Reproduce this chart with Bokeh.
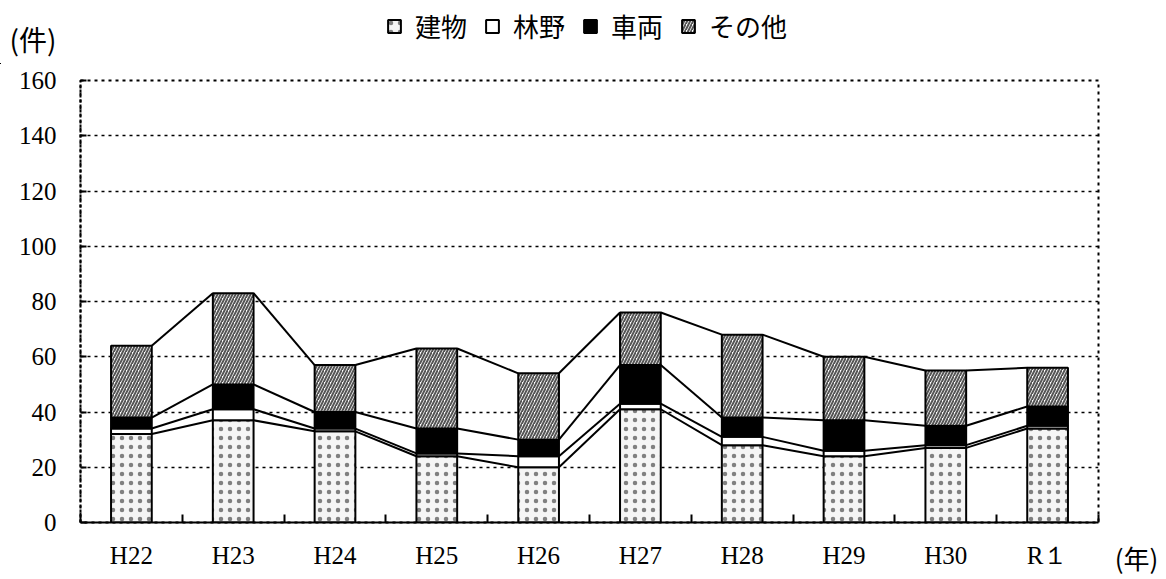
from bokeh.plotting import figure
from bokeh.layouts import column, row
from bokeh.models import ColumnDataSource, FixedTicker, Legend, LegendItem, Label, Range1d
from bokeh.embed import file_html
from bokeh.resources import INLINE

years = ["H22", "H23", "H24", "H25", "H26", "H27", "H28", "H29", "H30", "R１"]
building = [32, 37, 33, 24, 20, 41, 28, 24, 27, 34]
forest = [2, 4, 1, 1, 4, 2, 3, 2, 1, 1]
vehicle = [4, 9, 6, 9, 6, 14, 7, 11, 7, 7]
other = [26, 33, 17, 29, 24, 19, 30, 23, 20, 14]
series_names = ["建物", "林野", "車両", "その他"]
y_ticks = [0, 20, 40, 60, 80, 100, 120, 140, 160]
y_unit = "(件)"
x_unit = "(年)"

n = len(years)
xs = [i + 0.5 for i in range(n)]
c1 = building
c2 = [a + b for a, b in zip(c1, forest)]
c3 = [a + b for a, b in zip(c2, vehicle)]
c4 = [a + b for a, b in zip(c3, other)]
zeros = [0] * n

src = ColumnDataSource(dict(x=xs, b0=zeros, c1=c1, c2=c2, c3=c3, c4=c4))
levels = [("b0", "c1"), ("c1", "c2"), ("c2", "c3"), ("c3", "c4")]

SERIF = "Liberation Serif"
CJK = "Noto Sans CJK JP"

styles = [
    dict(fill_color="#f5f5f5", hatch_pattern="dot", hatch_scale=9, hatch_color="#808080", hatch_weight=1),
    dict(fill_color="white"),
    dict(fill_color="black"),
    dict(fill_color="white", hatch_pattern="right_diagonal_line", hatch_scale=6, hatch_color="#555", hatch_weight=2),
]

# ---------------- main chart ----------------
FW, FH = 1018, 442
BT, BB = 16, 49
p = figure(frame_width=FW, frame_height=FH,
           x_range=Range1d(0, n), y_range=Range1d(0, 160),
           output_backend="svg", toolbar_location=None,
           min_border_left=80, min_border_right=2,
           min_border_top=BT, min_border_bottom=BB)
p.background_fill_color = "white"
p.border_fill_color = "white"
p.outline_line_color = "black"
p.outline_line_dash = "3 4"
p.outline_line_width = 2

p.xgrid.grid_line_color = None
p.ygrid.grid_line_color = "black"
p.ygrid.grid_line_dash = "3 4"
p.ygrid.grid_line_width = 1.5
p.ygrid.ticker = FixedTicker(ticks=y_ticks)

bw = 0.4
for lev in [c1, c2, c3, c4]:
    p.segment(x0=[x + bw / 2 for x in xs[:-1]], y0=lev[:-1],
              x1=[x - bw / 2 for x in xs[1:]], y1=lev[1:],
              line_color="black", line_width=2)

for (lo, hi), st in zip(levels, styles):
    p.vbar(x="x", bottom=lo, top=hi, width=bw, source=src, line_color="black", line_width=2, **st)

def style_xaxis(ax):
    ax.major_tick_line_color = None
    ax.axis_line_color = "black"
    ax.axis_line_width = 2
    ax.major_label_text_font_size = "25px"
    ax.major_label_text_color = "black"
    ax.major_label_standoff = 13

p.xaxis.ticker = FixedTicker(ticks=xs, minor_ticks=list(range(n + 1)))
p.xaxis.major_label_overrides = {x: y for x, y in zip(xs, years)}
style_xaxis(p.xaxis[0])
p.xaxis.minor_tick_in = 8
p.xaxis.minor_tick_out = 0
p.xaxis.minor_tick_line_color = "black"
p.xaxis.minor_tick_line_width = 2
p.xaxis.major_label_text_font = SERIF

p.yaxis.ticker = FixedTicker(ticks=y_ticks)
p.yaxis.major_tick_in = 6
p.yaxis.major_tick_out = 0
p.yaxis.major_tick_line_width = 2
p.yaxis.minor_tick_line_color = None
p.yaxis.axis_line_color = "black"
p.yaxis.axis_line_width = 2
p.yaxis.axis_line_dash = "3 2"
p.yaxis.major_label_text_font = SERIF
p.yaxis.major_label_text_font_size = "25px"
p.yaxis.major_label_text_color = "black"
p.yaxis.major_label_standoff = 24

TOP_H = 80 - BT

# ---------------- right strip: x unit as a tick label ----------------
side = figure(frame_width=60, frame_height=FH, x_range=Range1d(0, 1), y_range=Range1d(0, 160),
              y_axis_type=None, output_backend="svg", toolbar_location=None,
              min_border_left=0, min_border_right=0, min_border_top=BT, min_border_bottom=BB)
side.grid.grid_line_color = None
side.outline_line_color = None
side.background_fill_color = "white"
side.border_fill_color = "white"
side.xaxis.ticker = FixedTicker(ticks=[0.6], minor_ticks=[])
side.xaxis.major_label_overrides = {0.6: x_unit}
style_xaxis(side.xaxis[0])
side.xaxis.major_label_standoff = 10
side.xaxis.axis_line_color = None
side.xaxis.minor_tick_line_color = None
side.xaxis.major_label_text_font = CJK
side.xaxis.major_label_text_font_size = "26px"

TOTAL_W = 80 + FW + 2 + 60

# ---------------- top strip: y unit and legend ----------------
top = figure(width=TOTAL_W, height=TOP_H, x_range=Range1d(0, TOTAL_W), y_range=Range1d(0, TOP_H),
             x_axis_type=None, y_axis_type=None, output_backend="svg", toolbar_location=None,
             min_border_left=0, min_border_right=0, min_border_top=0, min_border_bottom=0)
top.grid.grid_line_color = None
top.outline_line_color = None
top.background_fill_color = "white"
top.border_fill_color = "white"
# legend glyph renderers: same data, mapped onto ranges that put them outside this strip
top.extra_x_ranges = {"off": Range1d(20, 40)}
top.extra_y_ranges = {"offy": Range1d(1000, 1100)}
items = []
for name, (lo, hi), st in zip(series_names, levels, styles):
    r = top.vbar(x="x", bottom=lo, top=hi, width=bw, source=src,
                 x_range_name="off", y_range_name="offy",
                 line_color="black", line_width=2, **st)
    items.append(LegendItem(label=name, renderers=[r]))
legend = Legend(items=items, orientation="horizontal", location=(386, 20),
                glyph_width=16, glyph_height=16, label_standoff=13, spacing=17,
                label_text_font=CJK, label_text_font_size="26px", label_text_color="black",
                background_fill_alpha=0, border_line_color=None, padding=0, margin=0)
top.add_layout(legend, "center")
top.add_layout(Label(x=9, y=TOP_H - 38, text=y_unit, text_font=CJK, text_font_size="28px",
                     text_color="black", text_baseline="middle"))

layout = column(top, row(p, side))
open("out.html", "w").write(file_html(layout, INLINE))
